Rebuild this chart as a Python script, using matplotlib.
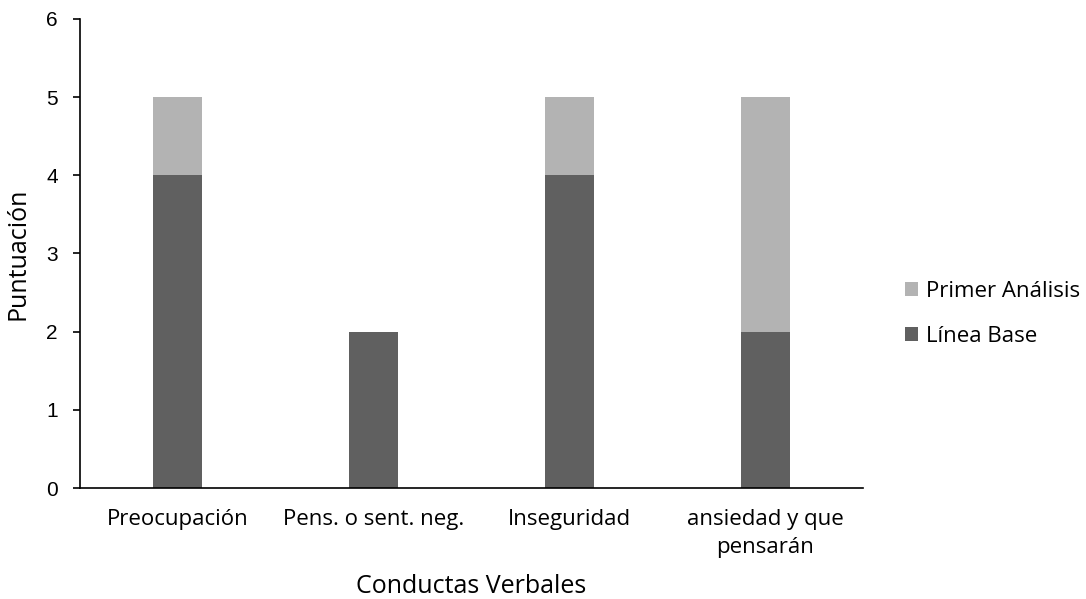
import matplotlib
matplotlib.use("Agg")
import matplotlib.pyplot as plt
import numpy as np

matplotlib.rcParams["font.family"] = ["Open Sans", "DejaVu Sans"]

# data
categorias = ["Preocupación", "Pens. o sent. neg.", "Inseguridad", "ansiedad y que\npensarán"]
linea_base = [4, 2, 4, 2]
primer_analisis = [1, 0, 1, 3]

color_base = "#606060"
color_primer = "#b3b3b3"

fig = plt.figure(figsize=(10.86, 5.99), dpi=100)
ax = fig.add_axes([0.0737, 0.1853, 0.721, 0.783])

x = np.arange(len(categorias))
b1 = ax.bar(x, linea_base, width=0.25, color=color_base, label="Línea Base")
b2 = ax.bar(x, primer_analisis, width=0.25, bottom=linea_base, color=color_primer, label="Primer Análisis")

ax.set_xlim(-0.5, len(categorias) - 0.5)
ax.set_ylim(0, 6)
ax.set_yticks(range(7))
ax.set_xticks(x)
ax.set_xticklabels(categorias, fontsize=16, linespacing=1.45)
ax.tick_params(axis="x", length=0, pad=15)
ax.tick_params(axis="y", length=5, width=1.2, direction="out", pad=11)
for t in ax.get_yticklabels():
    t.set_family(["Liberation Sans", "DejaVu Sans"])
    t.set_fontsize(15)
ax.spines["top"].set_visible(False)
ax.spines["right"].set_visible(False)
ax.spines["left"].set_linewidth(1.2)
ax.spines["bottom"].set_linewidth(1.2)

ax.set_ylabel("Puntuación", fontsize=18, va="center")
ax.set_xlabel("Conductas Verbales", fontsize=18, va="center")
ax.yaxis.set_label_coords(-0.079, 0.5)
ax.xaxis.set_label_coords(0.5, -0.211)

handles = [b2, b1]
ax.legend(handles, [h.get_label() for h in handles], loc="center left",
          bbox_to_anchor=(1.028, 0.371), frameon=False, fontsize=16,
          handlelength=0.6, handleheight=0.6, handletextpad=0.35, labelspacing=1.1)

fig.savefig("out.png", dpi=100)
